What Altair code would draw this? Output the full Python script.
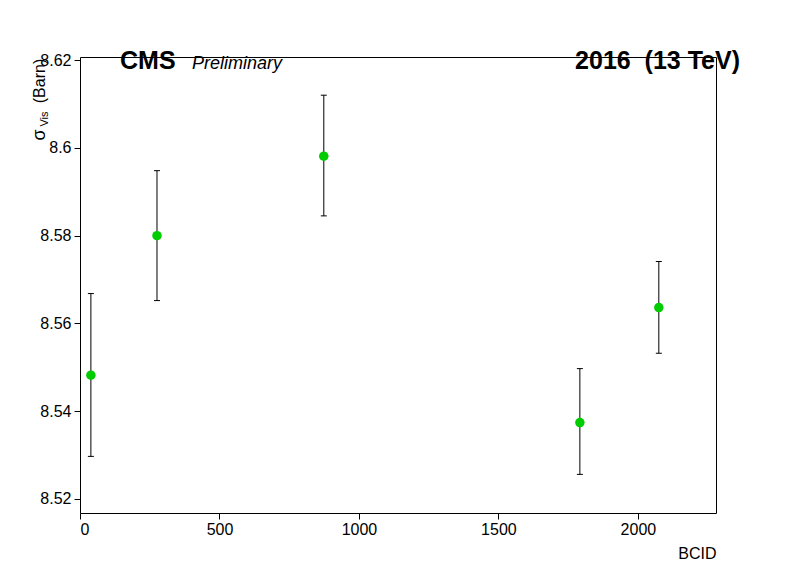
import altair as alt
import pandas as pd

bcid = [39, 276, 874, 1792, 2075]
sigma = [8.5482, 8.5800, 8.5981, 8.5374, 8.5636]
err_lo = [8.5297, 8.5652, 8.5845, 8.5256, 8.5532]
err_hi = [8.5668, 8.5948, 8.6120, 8.5497, 8.5741]

df = pd.DataFrame({"bcid": bcid, "sigma": sigma, "lo": err_lo, "hi": err_hi})

W, H = 636, 456
xs = alt.Scale(domain=[0, 2280], nice=False, zero=False)
ys = alt.Scale(domain=[8.5168, 8.6207], nice=False, zero=False)
font = "Liberation Sans"

xax = alt.Axis(values=[0, 500, 1000, 1500, 2000], format="d", tickSize=6, domain=False,
               grid=False, labelFontSize=16, labelPadding=2, title="BCID",
               titleAnchor="end", titleFontSize=16, titleFontWeight="normal", titlePadding=8,
               labelFont=font, titleFont=font, tickColor="black", labelColor="black")
yax = alt.Axis(values=[8.52, 8.54, 8.56, 8.58, 8.60, 8.62], tickSize=6, domain=False,
               grid=False, labelFontSize=16, labelPadding=3, title=None, format=".2~f",
               labelFont=font, tickColor="black", labelColor="black")

base = alt.Chart(df)
bars = base.mark_rule(color="black", strokeWidth=1, opacity=1).encode(
    x=alt.X("bcid:Q", scale=xs, axis=xax), y=alt.Y("lo:Q", scale=ys, axis=yax), y2="hi:Q")
caps_lo = base.mark_tick(color="black", size=6, thickness=1, orient="horizontal", opacity=1).encode(
    x=alt.X("bcid:Q", scale=xs), y=alt.Y("lo:Q", scale=ys))
caps_hi = base.mark_tick(color="black", size=6, thickness=1, orient="horizontal", opacity=1).encode(
    x=alt.X("bcid:Q", scale=xs), y=alt.Y("hi:Q", scale=ys))
pts = base.mark_circle(color="#00cc00", size=90, opacity=1).encode(
    x=alt.X("bcid:Q", scale=xs), y=alt.Y("sigma:Q", scale=ys))

def txt(s, x, y, size, weight="normal", style="normal", align="left", angle=0, baseline="alphabetic"):
    return alt.Chart(pd.DataFrame({"t": [s]})).mark_text(
        font=font, fontSize=size, fontWeight=weight, fontStyle=style, align=align,
        angle=angle, baseline=baseline, color="black").encode(
        text="t:N", x=alt.value(x), y=alt.value(y))

labels = [
    txt("CMS", 40, 12, 25, weight="bold"),
    txt("Preliminary", 112, 12, 18, style="italic"),
    txt("2016\u00a0\u00a0(13 TeV)", 660, 12, 25, weight="bold", align="right"),
    txt("σ", -40, 78, 18, angle=270, align="center", baseline="middle"),
    txt("Vis", -35, 62, 11, angle=270, align="center", baseline="middle"),
    txt("(Barn)", -40, 24, 16, angle=270, align="center", baseline="middle"),
]

chart = alt.layer(bars, caps_lo, caps_hi, pts, *labels).properties(
    width=W, height=H, autosize=alt.AutoSizeParams(type="none"),
    padding={"left": 72, "top": 49, "right": 60, "bottom": 51},
    background="white",
).configure_view(stroke="black", strokeWidth=1)

chart.save("out.html", embed_options={"renderer": "svg", "actions": False})
